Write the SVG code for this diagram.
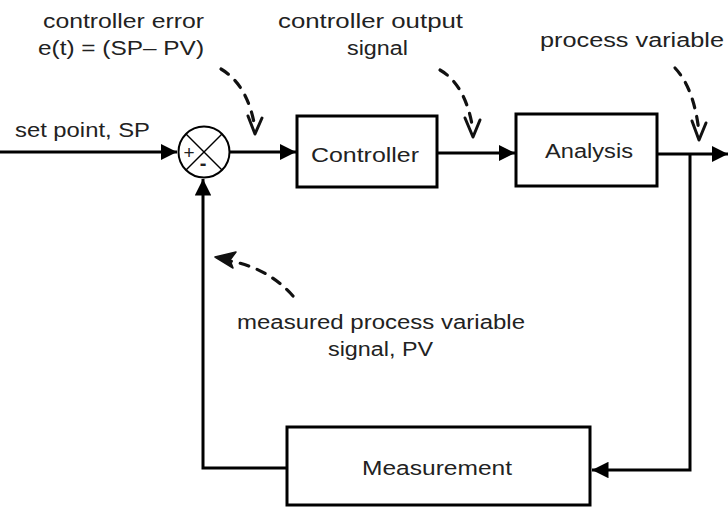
<svg xmlns="http://www.w3.org/2000/svg" width="728" height="515" viewBox="0 0 728 515">
<defs>
<style>
.ln{fill:none;stroke:#000;stroke-width:3}
.box{fill:#fff;stroke:#000;stroke-width:3}
.t{font-family:"Liberation Sans",Arial,sans-serif;font-size:20px;fill:#222}
.dash{fill:none;stroke:#111;stroke-width:3.2;stroke-dasharray:9 9;stroke-linecap:round}
.v{fill:none;stroke:#111;stroke-width:3;stroke-linecap:round;stroke-linejoin:round}
</style>
<marker id="ah" viewBox="0 0 10 10" refX="10" refY="5" markerWidth="5.5" markerHeight="5.5" markerUnits="strokeWidth" orient="auto">
<path d="M0,0 L10,5 L0,10 z" fill="#000"/>
</marker>
</defs>
<rect width="728" height="515" fill="#fff"/>

<g id="connectors">
<line class="ln" x1="0" y1="152" x2="177" y2="152" marker-end="url(#ah)"/>
<line class="ln" x1="230" y1="152" x2="296" y2="152" marker-end="url(#ah)"/>
<line class="ln" x1="437" y1="153" x2="515" y2="153" marker-end="url(#ah)"/>
<line class="ln" x1="657" y1="154" x2="728" y2="154" marker-end="url(#ah)"/>
<polyline class="ln" points="690,154 690,470 592,470" marker-end="url(#ah)"/>
<polyline class="ln" points="287,468 203,468 203,179" marker-end="url(#ah)"/>

<path class="dash" d="M221,69 Q248,85 255,128"/>
<polyline class="v" points="248,116 255,134 262,118"/>
<path class="dash" d="M440,70 Q466,85 473,130"/>
<polyline class="v" points="465,118 473,137 480,120"/>
<path class="dash" d="M675,68 Q694,88 699,132"/>
<polyline class="v" points="692,121 699,140 706,123"/>
<path class="dash" d="M293,296 Q268,268 230,261"/>
<path d="M215,257 L236,252 L230,260 L233,268 z" fill="#111" stroke="#111" stroke-width="1.5" stroke-linejoin="round"/>
</g>

<g id="sum">
<circle cx="204" cy="152" r="25.5" fill="#fff" stroke="#000" stroke-width="2"/>
<line x1="186" y1="134" x2="222" y2="170" stroke="#000" stroke-width="1.5"/>
<line x1="222" y1="134" x2="186" y2="170" stroke="#000" stroke-width="1.5"/>
<text x="189" y="159" font-family="Liberation Sans,Arial,sans-serif" font-size="19" text-anchor="middle" fill="#222">+</text>
<text x="203" y="170" font-family="Liberation Sans,Arial,sans-serif" font-size="20" font-weight="bold" text-anchor="middle" fill="#222">-</text>
</g>

<g id="controller">
<rect class="box" x="297" y="116" width="140" height="71"/>
<text class="t" x="311" y="162" textLength="108" lengthAdjust="spacingAndGlyphs">Controller</text>
</g>

<g id="analysis">
<rect class="box" x="516" y="114" width="141" height="72"/>
<text class="t" x="545" y="158" textLength="88" lengthAdjust="spacingAndGlyphs">Analysis</text>
</g>

<g id="measurement">
<rect class="box" x="287" y="427" width="303" height="78"/>
<text class="t" x="362" y="475" textLength="150" lengthAdjust="spacingAndGlyphs">Measurement</text>
</g>

<g id="labels">
<text class="t" x="43" y="28" textLength="161" lengthAdjust="spacingAndGlyphs">controller error</text>
<text class="t" x="38" y="55" textLength="166" lengthAdjust="spacingAndGlyphs">e(t) = (SP– PV)</text>
<text class="t" x="278" y="28" textLength="185" lengthAdjust="spacingAndGlyphs">controller output</text>
<text class="t" x="347" y="55" textLength="61" lengthAdjust="spacingAndGlyphs">signal</text>
<text class="t" x="540" y="47" textLength="184" lengthAdjust="spacingAndGlyphs">process variable</text>
<text class="t" x="15" y="137" textLength="135" lengthAdjust="spacingAndGlyphs">set point, SP</text>
<text class="t" x="237" y="329" textLength="288" lengthAdjust="spacingAndGlyphs">measured process variable</text>
<text class="t" x="328" y="356" textLength="105" lengthAdjust="spacingAndGlyphs">signal, PV</text>
</g>
</svg>
